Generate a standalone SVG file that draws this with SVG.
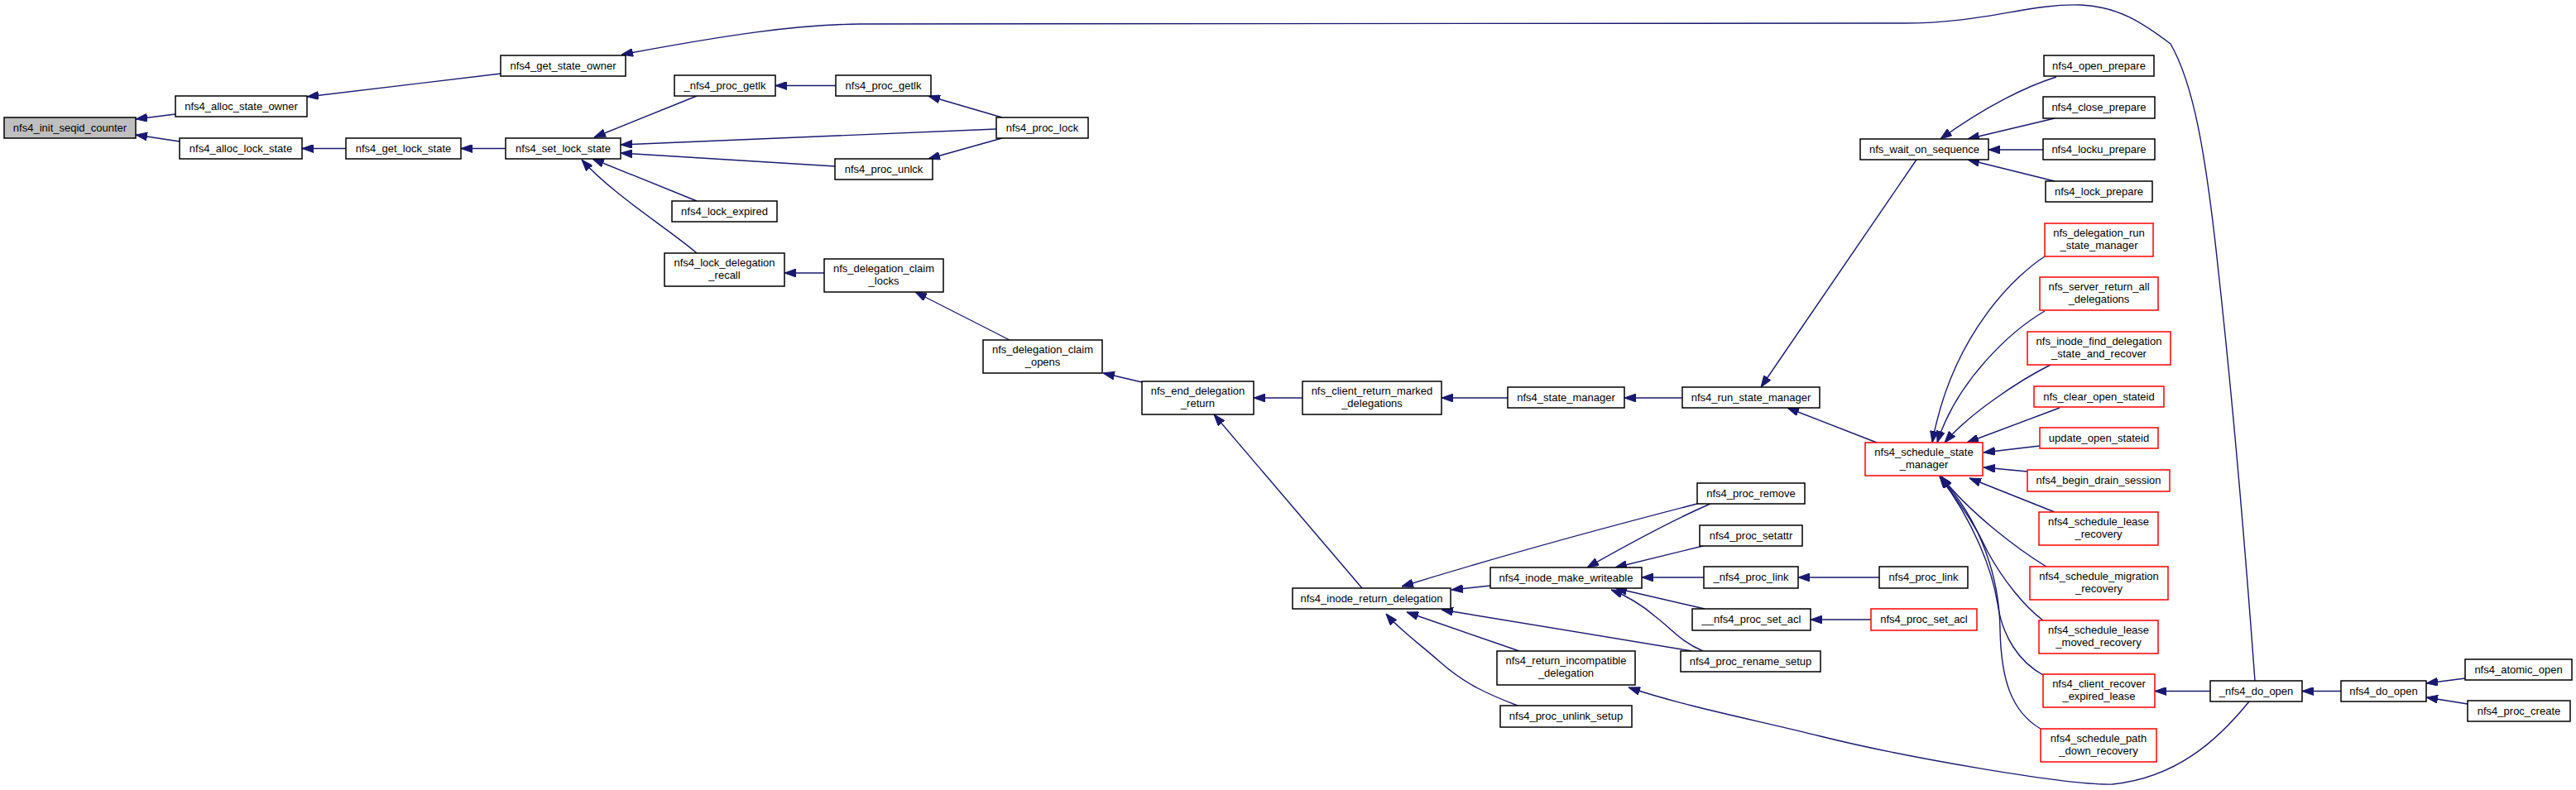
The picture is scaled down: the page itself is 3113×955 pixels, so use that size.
<svg xmlns="http://www.w3.org/2000/svg" width="3113" height="955" viewBox="0 0 3113 955">
<style>
.n rect{fill:#ffffff;stroke:#000000;stroke-width:1.5}
.r rect{fill:#ffffff;stroke:#ff0000;stroke-width:1.5}
.root rect{fill:#bfbfbf;stroke:#000000;stroke-width:1.5}
text{font-family:"Liberation Sans",Arial,sans-serif;font-size:13px;fill:#000000;text-anchor:middle}
#edges path{fill:none;stroke:#191970;stroke-width:1.4;marker-end:url(#ah)}
</style>
<defs>
<marker id="ah" markerUnits="userSpaceOnUse" viewBox="0 0 14 10" refX="14" refY="5" markerWidth="14" markerHeight="10" orient="auto">
<path d="M0,0 L14,5 L0,10 z" fill="#191970" stroke="#191970" stroke-width="1"/>
</marker>
</defs>
<rect x="0" y="0" width="3113" height="955" fill="#ffffff"/>
<g id="edges">
<path d="M212,138 L164,144"/>
<path d="M217,171 L164,163"/>
<path d="M605,89 L371,117"/>
<path d="M418,179.5 L365,179.5"/>
<path d="M611,179.5 L557,179.5"/>
<path d="M2725,823 C2716,700 2700,500 2680,320 C2665,180 2650,100 2623,53 C2590,28 2560,8 2515,6 C2450,4 2400,28 2300,28 L1040,29 C960,30 880,42 751,66"/>
<path d="M842,116 L718,166"/>
<path d="M1010,103.5 L937,103.5"/>
<path d="M1211,142 L1122,116"/>
<path d="M1204,156 L750,175"/>
<path d="M1211,167 L1122,192"/>
<path d="M1009,201 L750,185"/>
<path d="M842,243 L716,192"/>
<path d="M842,306 C810,278 740,235 703,193"/>
<path d="M996,330 L948,330"/>
<path d="M1220,411 L1106,353"/>
<path d="M1380,462 L1333,451"/>
<path d="M1574,481 L1515,481"/>
<path d="M1822,481 L1742,481"/>
<path d="M2033,481 L1963,481"/>
<path d="M2316,193 L2128,468"/>
<path d="M2268,535 L2160,493"/>
<path d="M2485,93 C2450,104 2400,128 2345,168"/>
<path d="M2483,143 L2378,168"/>
<path d="M2469,181 L2403,181"/>
<path d="M2483,219 L2378,193"/>
<path d="M2471,310 C2440,330 2360,400 2335,535"/>
<path d="M2471,376 C2430,400 2365,460 2341,535"/>
<path d="M2478,441 C2440,460 2380,500 2350,535"/>
<path d="M2489,493 L2377,535"/>
<path d="M2465,539 L2397,547"/>
<path d="M2450,570 L2397,565"/>
<path d="M2483,619 L2380,578"/>
<path d="M2473,685 C2440,665 2380,620 2346,576"/>
<path d="M2469,750 C2446,733 2420,700 2402,667 C2385,630 2365,605 2345,576"/>
<path d="M2469,816 C2440,800 2420,770 2414,730 C2408,690 2385,630 2344,576"/>
<path d="M2466,881 C2430,860 2418,820 2417,760 C2416,700 2395,630 2344,576"/>
<path d="M1646,711 L1467,501"/>
<path d="M2051,609 C1950,635 1820,670 1694,709"/>
<path d="M2067,609 C2030,625 1990,645 1918,686"/>
<path d="M2058,660 L1952,686"/>
<path d="M2059,698 L1984,698"/>
<path d="M2060,736 L1952,711"/>
<path d="M2058,787 C2030,775 2020,760 2000,745 C1985,732 1965,720 1947,713"/>
<path d="M2045,787 L1742,737"/>
<path d="M1801,708 L1754,713"/>
<path d="M1836,787 L1700,740"/>
<path d="M1834,853 C1800,840 1770,827 1740,800 C1715,778 1690,760 1675,742"/>
<path d="M2718,848 C2680,895 2630,940 2553,948 C2500,950 2300,915 2200,890 C2120,870 2040,855 1968,831"/>
<path d="M2671,835.5 L2604,835.5"/>
<path d="M2829,835.5 L2782,835.5"/>
<path d="M2979,820 L2932,826"/>
<path d="M2982,851 L2932,843"/>
<path d="M2271,698 L2173,698"/>
<path d="M2261,749 L2188,749"/>
</g>
<g id="nfs4_init_seqid_counter" class="root"><rect x="5" y="142" width="159" height="25"/><text x="84.5" y="158.5">nfs4_init_seqid_counter</text></g>
<g id="nfs4_alloc_state_owner" class="n"><rect x="212" y="116" width="159" height="25"/><text x="291.5" y="132.5">nfs4_alloc_state_owner</text></g>
<g id="nfs4_alloc_lock_state" class="n"><rect x="217" y="167" width="148" height="25"/><text x="291" y="183.5">nfs4_alloc_lock_state</text></g>
<g id="nfs4_get_state_owner" class="n"><rect x="605" y="67" width="151" height="25"/><text x="680.5" y="83.5">nfs4_get_state_owner</text></g>
<g id="nfs4_get_lock_state" class="n"><rect x="418" y="167" width="139" height="25"/><text x="487.5" y="183.5">nfs4_get_lock_state</text></g>
<g id="nfs4_set_lock_state" class="n"><rect x="611" y="167" width="139" height="25"/><text x="680.5" y="183.5">nfs4_set_lock_state</text></g>
<g id="_nfs4_proc_getlk" class="n"><rect x="815" y="91" width="122" height="25"/><text x="876" y="107.5">_nfs4_proc_getlk</text></g>
<g id="nfs4_proc_getlk" class="n"><rect x="1010" y="91" width="115" height="25"/><text x="1067.5" y="107.5">nfs4_proc_getlk</text></g>
<g id="nfs4_proc_lock" class="n"><rect x="1204" y="142" width="111" height="25"/><text x="1259.5" y="158.5">nfs4_proc_lock</text></g>
<g id="nfs4_proc_unlck" class="n"><rect x="1009" y="192" width="118" height="25"/><text x="1068" y="208.5">nfs4_proc_unlck</text></g>
<g id="nfs4_lock_expired" class="n"><rect x="812" y="243" width="127" height="25"/><text x="875.5" y="259.5">nfs4_lock_expired</text></g>
<g id="nfs4_lock_delegation_recall" class="n"><rect x="803" y="306" width="145" height="40"/><text x="875.5" y="322">nfs4_lock_delegation</text><text x="875.5" y="337">_recall</text></g>
<g id="nfs_delegation_claim_locks" class="n"><rect x="996" y="313" width="144" height="40"/><text x="1068" y="329">nfs_delegation_claim</text><text x="1068" y="344">_locks</text></g>
<g id="nfs_delegation_claim_opens" class="n"><rect x="1188" y="411" width="144" height="40"/><text x="1260" y="427">nfs_delegation_claim</text><text x="1260" y="442">_opens</text></g>
<g id="nfs_end_delegation_return" class="n"><rect x="1380" y="461" width="135" height="40"/><text x="1447.5" y="477">nfs_end_delegation</text><text x="1447.5" y="492">_return</text></g>
<g id="nfs_client_return_marked_delegations" class="n"><rect x="1574" y="461" width="168" height="40"/><text x="1658" y="477">nfs_client_return_marked</text><text x="1658" y="492">_delegations</text></g>
<g id="nfs4_state_manager" class="n"><rect x="1822" y="468" width="141" height="25"/><text x="1892.5" y="484.5">nfs4_state_manager</text></g>
<g id="nfs4_run_state_manager" class="n"><rect x="2033" y="468" width="166" height="25"/><text x="2116" y="484.5">nfs4_run_state_manager</text></g>
<g id="nfs_wait_on_sequence" class="n"><rect x="2248" y="168" width="155" height="25"/><text x="2325.5" y="184.5">nfs_wait_on_sequence</text></g>
<g id="nfs4_open_prepare" class="n"><rect x="2470" y="67" width="133" height="25"/><text x="2536.5" y="83.5">nfs4_open_prepare</text></g>
<g id="nfs4_close_prepare" class="n"><rect x="2469" y="117" width="135" height="26"/><text x="2536.5" y="134">nfs4_close_prepare</text></g>
<g id="nfs4_locku_prepare" class="n"><rect x="2469" y="168" width="135" height="25"/><text x="2536.5" y="184.5">nfs4_locku_prepare</text></g>
<g id="nfs4_lock_prepare" class="n"><rect x="2472" y="219" width="129" height="25"/><text x="2536.5" y="235.5">nfs4_lock_prepare</text></g>
<g id="nfs_delegation_run_state_manager" class="r"><rect x="2471" y="270" width="131" height="40"/><text x="2536.5" y="286">nfs_delegation_run</text><text x="2536.5" y="301">_state_manager</text></g>
<g id="nfs_server_return_all_delegations" class="r"><rect x="2465" y="335" width="143" height="40"/><text x="2536.5" y="351">nfs_server_return_all</text><text x="2536.5" y="366">_delegations</text></g>
<g id="nfs_inode_find_delegation_state_and_recover" class="r"><rect x="2450" y="401" width="173" height="40"/><text x="2536.5" y="417">nfs_inode_find_delegation</text><text x="2536.5" y="432">_state_and_recover</text></g>
<g id="nfs_clear_open_stateid" class="r"><rect x="2458" y="467" width="157" height="25"/><text x="2536.5" y="483.5">nfs_clear_open_stateid</text></g>
<g id="update_open_stateid" class="r"><rect x="2465" y="517" width="143" height="25"/><text x="2536.5" y="533.5">update_open_stateid</text></g>
<g id="nfs4_schedule_state_manager" class="r"><rect x="2254" y="535" width="142" height="40"/><text x="2325" y="551">nfs4_schedule_state</text><text x="2325" y="566">_manager</text></g>
<g id="nfs4_begin_drain_session" class="r"><rect x="2450" y="568" width="172" height="26"/><text x="2536" y="585">nfs4_begin_drain_session</text></g>
<g id="nfs4_schedule_lease_recovery" class="r"><rect x="2464" y="619" width="144" height="40"/><text x="2536" y="635">nfs4_schedule_lease</text><text x="2536" y="650">_recovery</text></g>
<g id="nfs4_schedule_migration_recovery" class="r"><rect x="2453" y="685" width="167" height="40"/><text x="2536.5" y="701">nfs4_schedule_migration</text><text x="2536.5" y="716">_recovery</text></g>
<g id="nfs4_schedule_lease_moved_recovery" class="r"><rect x="2464" y="750" width="144" height="40"/><text x="2536" y="766">nfs4_schedule_lease</text><text x="2536" y="781">_moved_recovery</text></g>
<g id="nfs4_client_recover_expired_lease" class="r"><rect x="2469" y="815" width="135" height="40"/><text x="2536.5" y="831">nfs4_client_recover</text><text x="2536.5" y="846">_expired_lease</text></g>
<g id="nfs4_schedule_path_down_recovery" class="r"><rect x="2466" y="881" width="140" height="40"/><text x="2536" y="897">nfs4_schedule_path</text><text x="2536" y="912">_down_recovery</text></g>
<g id="nfs4_inode_return_delegation" class="n"><rect x="1562" y="711" width="191" height="25"/><text x="1657.5" y="727.5">nfs4_inode_return_delegation</text></g>
<g id="nfs4_inode_make_writeable" class="n"><rect x="1801" y="686" width="183" height="25"/><text x="1892.5" y="702.5">nfs4_inode_make_writeable</text></g>
<g id="nfs4_return_incompatible_delegation" class="n"><rect x="1809" y="787" width="167" height="41"/><text x="1892.5" y="803">nfs4_return_incompatible</text><text x="1892.5" y="818">_delegation</text></g>
<g id="nfs4_proc_unlink_setup" class="n"><rect x="1813" y="853" width="159" height="26"/><text x="1892.5" y="870">nfs4_proc_unlink_setup</text></g>
<g id="nfs4_proc_remove" class="n"><rect x="2051" y="584" width="130" height="25"/><text x="2116" y="600.5">nfs4_proc_remove</text></g>
<g id="nfs4_proc_setattr" class="n"><rect x="2054" y="635" width="124" height="25"/><text x="2116" y="651.5">nfs4_proc_setattr</text></g>
<g id="_nfs4_proc_link" class="n"><rect x="2059" y="685" width="114" height="26"/><text x="2116" y="702">_nfs4_proc_link</text></g>
<g id="__nfs4_proc_set_acl" class="n"><rect x="2045" y="736" width="143" height="26"/><text x="2116.5" y="753">__nfs4_proc_set_acl</text></g>
<g id="nfs4_proc_rename_setup" class="n"><rect x="2031" y="787" width="169" height="25"/><text x="2115.5" y="803.5">nfs4_proc_rename_setup</text></g>
<g id="nfs4_proc_link" class="n"><rect x="2271" y="685" width="107" height="26"/><text x="2324.5" y="702">nfs4_proc_link</text></g>
<g id="nfs4_proc_set_acl" class="r"><rect x="2261" y="736" width="128" height="26"/><text x="2325" y="753">nfs4_proc_set_acl</text></g>
<g id="_nfs4_do_open" class="n"><rect x="2671" y="823" width="111" height="25"/><text x="2726.5" y="839.5">_nfs4_do_open</text></g>
<g id="nfs4_do_open" class="n"><rect x="2829" y="823" width="103" height="25"/><text x="2880.5" y="839.5">nfs4_do_open</text></g>
<g id="nfs4_atomic_open" class="n"><rect x="2979" y="797" width="129" height="25"/><text x="3043.5" y="813.5">nfs4_atomic_open</text></g>
<g id="nfs4_proc_create" class="n"><rect x="2982" y="847" width="124" height="25"/><text x="3044" y="863.5">nfs4_proc_create</text></g>
</svg>
